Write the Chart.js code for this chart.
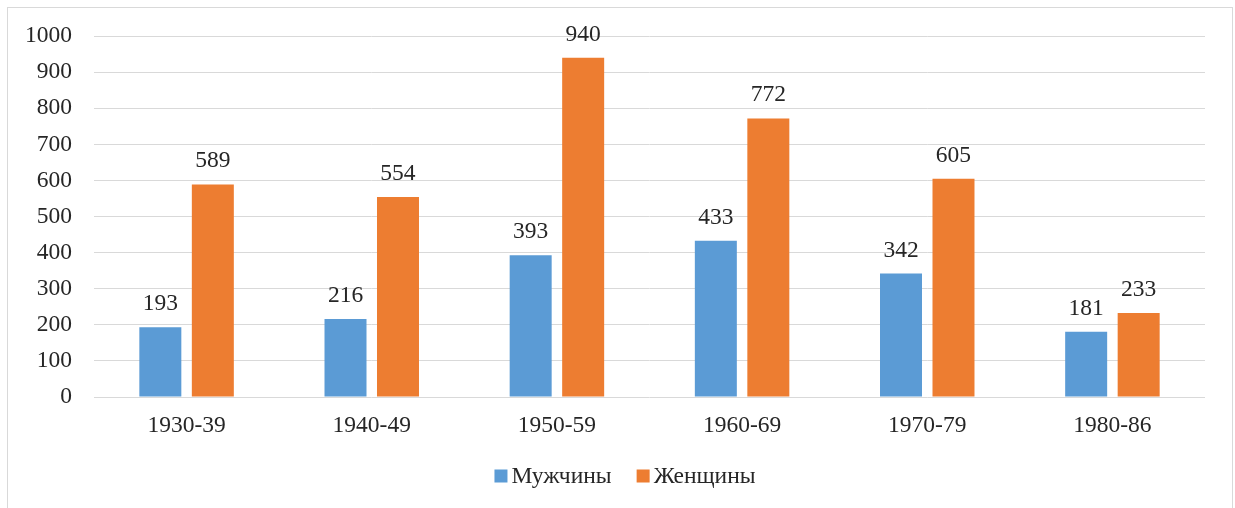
<!DOCTYPE html>
<html>
<head>
<meta charset="utf-8">
<script src="https://cdn.jsdelivr.net/npm/chart.js@4"></script>
<style>
  html, body { margin: 0; padding: 0; background: #fff; }
  #wrap { position: relative; width: 1235px; height: 508px; overflow: hidden; }
  #frame { position: absolute; left: 7px; top: 7px; width: 1226px; height: 540px; border: 1px solid #d9d9d9; box-sizing: border-box; pointer-events: none; }
  canvas { position: absolute; left: 0; top: 0; }
</style>
</head>
<body>
<div id="wrap">
  <canvas id="c" width="1235" height="508"></canvas>
  <div id="frame"></div>
</div>
<script>
const categories = ['1930-39', '1940-49', '1950-59', '1960-69', '1970-79', '1980-86'];
const men = [193, 216, 393, 433, 342, 181];
const women = [589, 554, 940, 772, 605, 233];
const yTicks = [0, 100, 200, 300, 400, 500, 600, 700, 800, 900, 1000];
const seriesNames = ['Мужчины', 'Женщины'];
const colors = ['#5B9BD5', '#ED7D31'];

const FONT = '"Liberation Serif", "Times New Roman", serif';
const FS = 23.5;
const TEXT = '#262626';

const valueLabels = {
  id: 'valueLabels',
  afterDatasetsDraw(chart) {
    const ctx = chart.ctx;
    ctx.save();
    ctx.font = FS + 'px ' + FONT;
    ctx.fillStyle = TEXT;
    ctx.textAlign = 'center';
    ctx.textBaseline = 'alphabetic';
    chart.data.datasets.forEach((ds, i) => {
      chart.getDatasetMeta(i).data.forEach((bar, j) => {
        ctx.fillText(String(ds.data[j]), bar.x, bar.y - 17);
      });
    });
    ctx.restore();
  }
};

const customLegend = {
  id: 'customLegend',
  afterDraw(chart) {
    const ctx = chart.ctx;
    ctx.save();
    ctx.font = FS + 'px ' + FONT;
    ctx.textBaseline = 'middle';
    ctx.textAlign = 'left';
    const box = 13, gapText = 4, gapItem = 25;
    const items = chart.data.datasets.map(d => ({label: d.label, color: d.backgroundColor, w: ctx.measureText(d.label).width}));
    let total = 0;
    items.forEach((it, k) => { total += box + gapText + it.w + (k < items.length - 1 ? gapItem : 0); });
    let x = 625 - total / 2;
    const cy = 477;
    items.forEach(it => {
      ctx.fillStyle = it.color;
      ctx.fillRect(x, cy - box / 2 - 1, box, box);
      x += box + gapText;
      ctx.fillStyle = TEXT;
      ctx.fillText(it.label, x, cy);
      x += it.w + gapItem;
    });
    ctx.restore();
  }
};

new Chart(document.getElementById('c'), {
  type: 'bar',
  data: {
    labels: categories,
    datasets: [
      { label: seriesNames[0], data: men, backgroundColor: colors[0], borderWidth: 0 },
      { label: seriesNames[1], data: women, backgroundColor: colors[1], borderWidth: 0 }
    ]
  },
  options: {
    responsive: false,
    animation: false,
    devicePixelRatio: 1,
    categoryPercentage: 0.567,
    barPercentage: 0.8,
    layout: { padding: { left: 0, right: 30, top: 25, bottom: 0 } },
    plugins: {
      legend: { display: false },
      tooltip: { enabled: false }
    },
    scales: {
      x: {
        grid: { display: false, drawTicks: false },
        border: { display: false },
        ticks: { font: { family: FONT, size: FS }, color: TEXT, padding: 15 },
        afterFit(scale) { scale.height = 111; }
      },
      y: {
        min: 0,
        max: 1000,
        afterBuildTicks(scale) { scale.ticks = yTicks.map(v => ({ value: v })); },
        grid: { color: '#d9d9d9', lineWidth: 1, drawTicks: false },
        border: { display: false },
        ticks: { font: { family: FONT, size: FS }, color: TEXT, padding: 22, callback: v => String(v) },
        afterFit(scale) { scale.width = 94; }
      }
    }
  },
  plugins: [valueLabels, customLegend]
});
</script>
</body>
</html>
